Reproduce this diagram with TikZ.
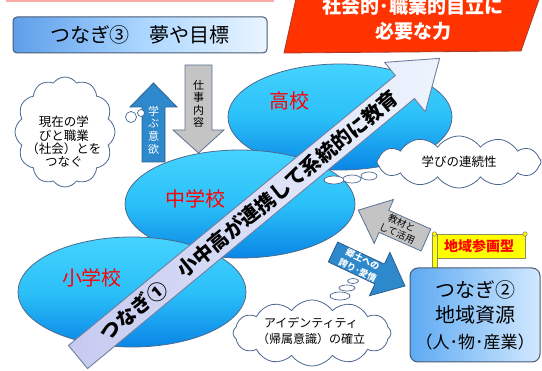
\documentclass[tikz,border=0pt]{standalone}
\usepackage{fontspec}
\newfontfamily\jp{Noto Sans CJK JP}
\usetikzlibrary{shapes.symbols,shapes.geometric}
\definecolor{ellTop}{HTML}{45D3FF}
\definecolor{ellMid}{HTML}{2BC0F8}
\definecolor{ellBot}{HTML}{0A86E6}
\definecolor{ellLine}{HTML}{4A6A8E}
\definecolor{bandA}{HTML}{C6CAF0}
\definecolor{bandB}{HTML}{EEF4FD}
\definecolor{bandLine}{HTML}{6F7FA0}
\definecolor{grayFill}{HTML}{C4C4C4}
\definecolor{arrLine}{HTML}{5A7392}
\definecolor{blueArr}{HTML}{2E88CC}
\definecolor{blueArrLine}{HTML}{2A5F90}
\definecolor{cloudLine}{HTML}{4B6790}
\definecolor{goalRed}{HTML}{FF3300}
\definecolor{goalLine}{HTML}{A83A2A}
\definecolor{pinkLine}{HTML}{FFA8A8}
\definecolor{boxL}{HTML}{5E9EEA}
\definecolor{boxM}{HTML}{A9D5FF}
\definecolor{boxR}{HTML}{EAF5FF}
\definecolor{boxLine}{HTML}{4A5B72}
\definecolor{resL}{HTML}{5DAAF2}
\definecolor{resR}{HTML}{D2E8FF}
\definecolor{flagY}{HTML}{FFFF00}
\definecolor{flagLine}{HTML}{8C8C60}
\newcommand\fsz[2]{\fontsize{#1}{#2}\selectfont}
\begin{document}
\begin{tikzpicture}[x=1pt,y=-1pt, font=\jp,
  ell/.style={ellipse, draw=ellLine, line width=0.8pt, top color=ellTop, bottom color=ellBot, middle color=ellMid, inner sep=0pt},
  schooltext/.style={text=red, font=\jp\fsz{20}{24}},
  grayarrow/.style={fill=grayFill, draw=arrLine, line width=0.8pt},
  bluearrow/.style={fill=blueArr, draw=blueArrLine, line width=0.8pt},
  cl/.style={cloud, cloud puffs=12, cloud puff arc=110, cloud ignores aspect, draw=cloudLine, line width=0.8pt, fill=white, inner sep=0pt},
  bub/.style={ellipse, draw=cloudLine, line width=0.7pt, fill=white, inner sep=0pt},
  smalltext/.style={align=center, inner sep=0pt},
]
\useasboundingbox (0,0) rectangle (542,371);

% top pink rule
\draw[pinkLine, line width=1.2pt] (6,1) -- (274,1);

% goal parallelogram
\path[fill=goalRed, draw=goalLine, line width=0.8pt] (299,-15) -- (544,-15) -- (521,51) -- (284,53) -- cycle;
\node[text=white, font=\jp\bfseries\fsz{19}{22}] (goal1) at (413,6) {社会的･職業的自立に};
\node[text=white, font=\jp\bfseries\fsz{19}{22}] (goal2) at (413,31) {必要な力};

% dream box
\node[rounded corners=4pt, draw=boxLine, line width=1pt, left color=boxL, right color=boxR, middle color=boxM,
      minimum width=254, minimum height=36, font=\jp\fsz{20}{24}] (dream) at (140,35) {つなぎ③　夢や目標};

% ellipses
\node[ell, minimum width=224, minimum height=106] (high) at (340,117) {};
\node[ell, minimum width=230, minimum height=108] (middle) at (240,204) {};
\node[ell, minimum width=228, minimum height=110] (elem) at (132,292) {};
\node[schooltext] (highT) at (289,101) {高校};
\node[schooltext] (middleT) at (195,199) {中学校};
\node[schooltext] (elemT) at (92,278) {小学校};

% up arrow (manabu)
\path[bluearrow] (142,162) -- (142,107) -- (130,107) -- (153.5,83) -- (177,107) -- (165,107) -- (165,162) -- cycle;
\node[smalltext, text=white, font=\jp\fsz{11}{12.7}] (manabu) at (153.5,130) {学\\ぶ\\意\\欲};

% down arrow (shigoto)
\path[grayarrow] (185,65) -- (212,65) -- (212,130) -- (224,130) -- (198.5,153) -- (173,130) -- (185,130) -- cycle;
\node[smalltext, font=\jp\fsz{11}{12.5}] (shigoto) at (198.5,104) {仕\\事\\内\\容};

% big band arrow
\begin{scope}[shift={(78,357)}, rotate=39.55]
\path[left color=bandA, right color=bandB, draw=bandLine, line width=0.9pt]
  (0,-15) -- (424,-15) -- (424,-32) -- (469,0) -- (424,32) -- (424,15) -- (0,15) -- cycle;
\node[rotate=39.55, font=\jp\bfseries\fsz{20}{24}] (bandT) at (222,0) {つなぎ①　小中高が連携して系統的に教育};
\end{scope}

% gray arrow (kyozai)
\begin{scope}[shift={(426,240)}, rotate=156.2]
\path[grayarrow] (0,-12) -- (46,-12) -- (46,-24) -- (74,0) -- (46,24) -- (46,12) -- (0,12) -- cycle;
\node[smalltext, rotate=-23.8, font=\jp\fsz{9.5}{11.5}] (kyozai) at (29,0) {教材と\\して活用};
\end{scope}

% blue arrow (kyodo)
\begin{scope}[shift={(333,252)}, rotate=-25.3]
\path[bluearrow] (0,-11) -- (51.6,-11) -- (51.6,-24) -- (79.6,0) -- (51.6,24) -- (51.6,11) -- (0,11) -- cycle;
\node[smalltext, rotate=-25.3, text=white, font=\jp\bfseries\fsz{9}{12}] (kyodo) at (30,0) {郷土への\\誇り･愛情};
\end{scope}

% cloud 1
\node[cl, minimum width=100, minimum height=110] (cl1) at (65,132) {};
\node[smalltext, font=\jp\fsz{12.5}{13.4}] (cl1T) at (64,142) {現在の学\\びと職業\\（社会）とを\\つなぐ};
\node[bub, minimum width=11, minimum height=11] (cl1b1) at (131,117) {};
\node[bub, minimum width=7, minimum height=7] (cl1b2) at (141,113) {};

% cloud 2
\node[bub, minimum width=20, minimum height=8] (cl2b1) at (334,180) {};
\node[bub, minimum width=18, minimum height=8] (cl2b2) at (352,179) {};
\node[bub, minimum width=16, minimum height=8] (cl2b3) at (369,176) {};
\node[cl, minimum width=164, minimum height=52, font=\jp\fsz{12.5}{14}] (cl2) at (459,162) {学びの連続性};

% cloud 3
\node[bub, minimum width=11, minimum height=5] (cl3b3) at (353,281) {};
\node[bub, minimum width=16, minimum height=6] (cl3b2) at (347,288) {};
\node[bub, minimum width=20, minimum height=8] (cl3b1) at (340,296) {};
\node[cl, minimum width=158, minimum height=66] (cl3) at (312,333) {};
\node[smalltext, font=\jp\fsz{12}{16}] (cl3T) at (311,331) {アイデンティティ\\（帰属意識）の確立};

% flag
\node[draw=flagLine, fill=flagY, line width=0.8pt, minimum width=92, minimum height=24, inner sep=0pt,
      text=red, font=\jp\bfseries\fsz{14}{16}] (flag) at (479,246) {地域参画型};
\path[fill=flagY, draw=flagLine, line width=0.6pt] (432,234) rectangle (437,269);
\path[fill=flagY, draw=flagLine, line width=0.6pt] (434.5,234) circle (2.2);
\path[fill=flagY, draw=flagLine, line width=0.6pt] (525,234) circle (2.2);

% resources box
\node[rounded corners=8pt, draw=boxLine, line width=1pt, left color=resL, right color=resR,
      minimum width=130, minimum height=94, align=center, inner sep=0pt, font=\jp\fsz{20}{25.5}] (res) at (475,315)
      {つなぎ②\\地域資源\\{\fsz{17}{25.5}（人･物･産業）}};
\end{tikzpicture}
\end{document}
